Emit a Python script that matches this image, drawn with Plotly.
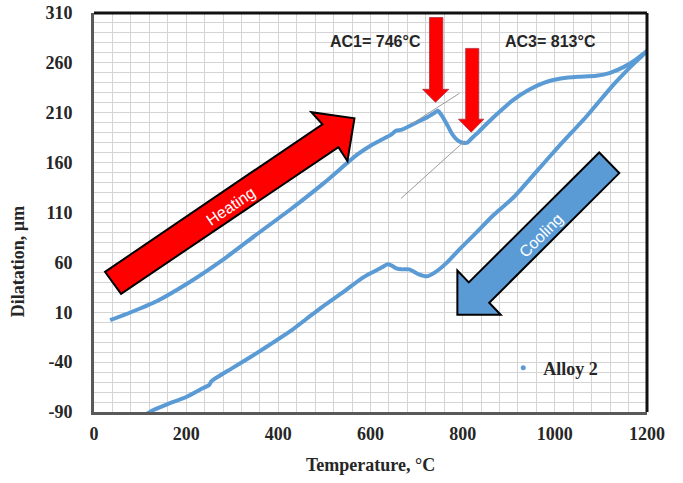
import plotly.graph_objects as go

# Dilatometer record for Alloy 2: heating branch then cooling branch
heat_temp = [35, 80, 136, 200, 281, 350, 426, 500, 571, 600, 620, 645, 655, 668,
             699, 725, 739, 746, 752, 764, 778, 790, 800, 810, 821, 835, 850, 880,
             910, 944, 976, 1016, 1050, 1090, 1120, 1150, 1175, 1200]
heat_dil = [2, 10, 21, 38, 63, 87, 113, 140, 168, 177, 182, 188, 192, 193,
            200, 206, 210, 212, 209, 200, 188, 182, 180, 180, 185, 191, 198, 211,
            223, 233, 240, 244.5, 246, 247, 250, 256, 263, 272]

cool_temp = [1200, 1160, 1125, 1070, 1010, 960, 910, 866, 830, 793, 764, 740, 722,
             705, 684, 668, 656, 645, 636, 625, 600, 578, 540, 497, 460, 426, 390,
             353, 300, 255, 250, 237, 200, 160, 129, 110]
cool_dil = [272, 254, 237, 207, 177, 151, 125, 107, 90, 73, 59, 50, 46,
            48, 53, 53, 54, 57, 58, 55, 49, 43, 30, 16, 3, -9, -20,
            -31, -46, -59, -63, -66, -75, -82, -88, -93]

x_ticks = [0, 200, 400, 600, 800, 1000, 1200]
y_ticks = [-90, -40, 10, 60, 110, 160, 210, 260, 310]

series_name = "Alloy 2"
line_blue = "#5B9BD5"
serif = "Liberation Serif"
sans = "Liberation Sans"

fig = go.Figure()

fig.add_trace(go.Scatter(
    x=heat_temp + cool_temp[1:],
    y=heat_dil + cool_dil[1:],
    mode="lines",
    line=dict(color=line_blue, width=4, shape="spline", smoothing=0.6),
    showlegend=False,
    hoverinfo="skip",
))
# legend entry drawn as a marker dot
fig.add_trace(go.Scatter(
    x=[None], y=[None], mode="markers", name=series_name,
    marker=dict(color=line_blue, size=5),
))

shapes = []

# tangent construction lines at AC1 and AC3
shapes.append(dict(type="line", xref="x", yref="y", x0=690, y0=199, x1=793, y1=229.5,
                   line=dict(color="#9a9a9a", width=1)))
shapes.append(dict(type="line", xref="x", yref="y", x0=666, y0=124, x1=805, y1=182,
                   line=dict(color="#9a9a9a", width=1)))


def poly(pts):
    return "M " + " L ".join(f"{a},{b}" for a, b in pts) + " Z"


# red down arrows marking the transformation points
for sx0, sx1, top, hx0, hx1, htop, tipx, tipy in [
    (728, 757, 305.5, 713, 770, 233.5, 741, 220.5),
    (806.5, 835, 274.5, 791, 846, 203.5, 818.5, 190.5),
]:
    shapes.append(dict(
        type="path", xref="x", yref="y",
        path=poly([(sx0, top), (sx1, top), (sx1, htop), (hx1, htop), (tipx, tipy),
                   (hx0, htop), (sx0, htop)]),
        fillcolor="#FF0000", line=dict(color="#b03040", width=0.8),
    ))

# heating direction arrow
shapes.append(dict(
    type="path", xref="x", yref="y",
    path=poly([(23.9, 50.5), (495.7, 198.5), (471.7, 210.5), (565.2, 204.5),
               (550, 161.5), (530.4, 175.5), (58.7, 28.5)]),
    fillcolor="#FF0000", line=dict(color="#000000", width=2),
))
# cooling direction arrow
shapes.append(dict(
    type="path", xref="x", yref="y",
    path=poly([(1096.3, 170.2), (813.3, 39.9), (788.5, 51.8), (788.5, 7.5),
               (882.6, 7.5), (857.6, 19.5), (1139.8, 149.5)]),
    fillcolor=line_blue, line=dict(color="#000000", width=2),
))

# top and right frame of the plot area
shapes.append(dict(type="line", xref="paper", yref="paper", x0=0, y0=1, x1=1, y1=1,
                   line=dict(color="#111111", width=3)))
shapes.append(dict(type="line", xref="paper", yref="paper", x0=1, y0=0, x1=1, y1=1,
                   line=dict(color="#111111", width=3)))

annotations = [
    dict(x=295.7, y=116.5, xref="x", yref="y", text="Heating", showarrow=False,
         textangle=-34, font=dict(family=sans, size=16, color="white")),
    dict(x=969.6, y=86.8, xref="x", yref="y", text="Cooling", showarrow=False,
         textangle=-45, font=dict(family=sans, size=16, color="white")),
    dict(x=611, y=281.5, xref="x", yref="y", text="<b>AC1= 746°C</b>", showarrow=False,
         xanchor="center", yanchor="middle",
         font=dict(family=sans, size=16, color="#262626")),
    dict(x=990, y=281.5, xref="x", yref="y", text="<b>AC3= 813°C</b>", showarrow=False,
         xanchor="center", yanchor="middle",
         font=dict(family=sans, size=16, color="#262626")),
    dict(x=-0.137, y=0.376, xref="paper", yref="paper", text="<b>Dilatation, µm</b>",
         showarrow=False, textangle=-90, xanchor="center", yanchor="middle",
         font=dict(family=serif, size=18, color="#262626")),
    dict(x=0.5, y=-0.133, xref="paper", yref="paper", text="<b>Temperature, °C</b>",
         showarrow=False, xanchor="center", yanchor="middle",
         font=dict(family=serif, size=18, color="#262626")),
]

fig.update_layout(
    width=683, height=483,
    margin=dict(l=94, r=36, t=13, b=71, autoexpand=False),
    paper_bgcolor="white", plot_bgcolor="white",
    shapes=shapes, annotations=annotations,
    legend=dict(x=0.74, y=0.11, xanchor="left", yanchor="middle",
                bgcolor="rgba(0,0,0,0)",
                font=dict(family=serif, size=18, color="#262626", weight="bold")),
    xaxis=dict(
        range=[0, 1200], tickvals=x_ticks, ticktext=[str(v) for v in x_ticks],
        showgrid=True, gridcolor="#d4d4d4", gridwidth=1,
        minor=dict(dtick=40, tick0=0, showgrid=True, gridcolor="#d4d4d4", gridwidth=1),
        showline=True, linecolor="#595959", linewidth=3, zeroline=False,
        ticks="", ticklabelstandoff=3, automargin=False,
        tickfont=dict(family=serif, size=18, color="#262626", weight="bold"),
    ),
    yaxis=dict(
        range=[-90, 310], tickvals=y_ticks, ticktext=[str(v) for v in y_ticks],
        showgrid=True, gridcolor="#d4d4d4", gridwidth=1,
        minor=dict(dtick=10, tick0=-90, showgrid=True, gridcolor="#d4d4d4", gridwidth=1),
        showline=True, linecolor="#595959", linewidth=3, zeroline=False,
        ticks="", ticklabelstandoff=15, automargin=False,
        tickfont=dict(family=serif, size=18, color="#262626", weight="bold"),
    ),
)

fig.write_html("out.html")
